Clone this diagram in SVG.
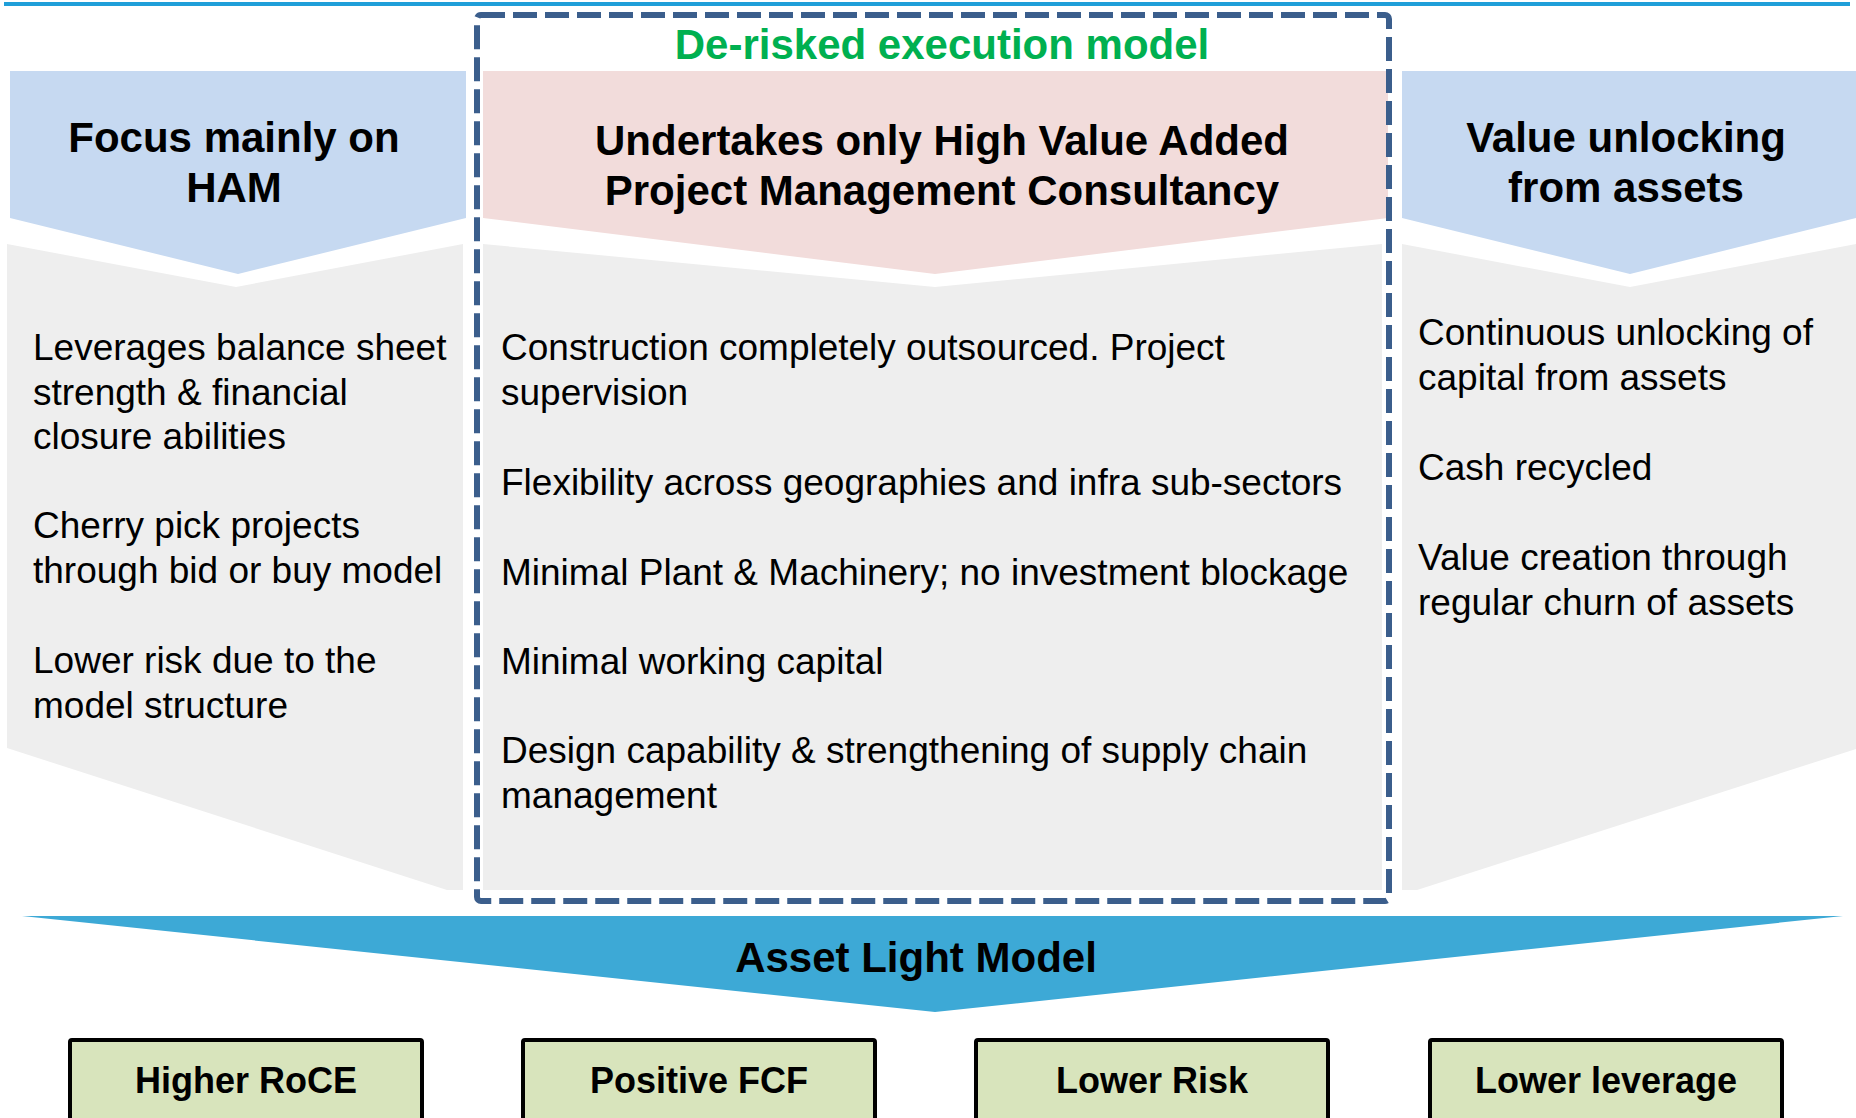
<svg xmlns="http://www.w3.org/2000/svg" width="1856" height="1118" viewBox="0 0 1856 1118">
<style>
.hdr{font-family:"Liberation Sans",Arial,sans-serif;font-weight:bold;font-size:42px;fill:#000;text-anchor:middle}
.body{font-family:"Liberation Sans",Arial,sans-serif;font-size:37px;fill:#000}
.res{font-family:"Liberation Sans",Arial,sans-serif;font-weight:bold;font-size:36px;fill:#000;text-anchor:middle}
.blue{fill:#c6d9f1}
.grey{fill:#eeeeee}
.box{fill:#d8e4bc;stroke:#000;stroke-width:4}
</style>
<rect x="0" y="0" width="1856" height="1118" fill="#ffffff"/>
<rect x="4" y="2" width="1846" height="4" fill="#1f9fd9"/>

<g id="left-column">
  <polygon class="grey" points="7,244 236,287 463,244 463,890 447,890 7,748"/>
  <polygon class="blue" points="10,71 466,71 466,218 238,274 10,218"/>
  <text class="hdr" x="234" y="152">Focus mainly on</text>
  <text class="hdr" x="234" y="202">HAM</text>
  <text class="body" x="33" y="360">Leverages balance sheet</text>
  <text class="body" x="33" y="405">strength &amp; financial</text>
  <text class="body" x="33" y="449">closure abilities</text>
  <text class="body" x="33" y="538">Cherry pick projects</text>
  <text class="body" x="33" y="583">through bid or buy model</text>
  <text class="body" x="33" y="673">Lower risk due to the</text>
  <text class="body" x="33" y="718">model structure</text>
</g>

<g id="center-column">
  <polygon class="grey" points="483,244 935,287 1382,244 1382,890 483,890"/>
  <polygon fill="#f2dcdb" points="483,71 1388,71 1388,218 935,274 483,218"/>
  <text class="hdr" x="942" y="155">Undertakes only High Value Added</text>
  <text class="hdr" x="942" y="205">Project Management Consultancy</text>
  <text class="body" x="501" y="360">Construction completely outsourced. Project</text>
  <text class="body" x="501" y="405">supervision</text>
  <text class="body" x="501" y="495">Flexibility across geographies and infra sub-sectors</text>
  <text class="body" x="501" y="585">Minimal Plant &amp; Machinery; no investment blockage</text>
  <text class="body" x="501" y="674">Minimal working capital</text>
  <text class="body" x="501" y="763">Design capability &amp; strengthening of supply chain</text>
  <text class="body" x="501" y="808">management</text>
</g>

<g id="right-column">
  <polygon class="grey" points="1402,244 1630,287 1856,244 1856,749 1417,890 1402,890"/>
  <polygon class="blue" points="1402,71 1856,71 1856,218 1630,274 1402,218"/>
  <text class="hdr" x="1626" y="152">Value unlocking</text>
  <text class="hdr" x="1626" y="202">from assets</text>
  <text class="body" x="1418" y="345">Continuous unlocking of</text>
  <text class="body" x="1418" y="390">capital from assets</text>
  <text class="body" x="1418" y="480">Cash recycled</text>
  <text class="body" x="1418" y="570">Value creation through</text>
  <text class="body" x="1418" y="615">regular churn of assets</text>
</g>

<g id="derisked-frame">
  <rect x="477" y="15" width="912" height="886" rx="4" fill="none" stroke="#3b5e8c" stroke-width="6" stroke-dasharray="24 8"/>
  <text class="hdr" x="942" y="59" style="fill:#00b050">De-risked execution model</text>
</g>

<g id="asset-light-model">
  <polygon fill="#3da9d6" points="22,916 1843,916 935,1012"/>
  <text class="hdr" x="916" y="972">Asset Light Model</text>
</g>

<g id="result-higher-roce">
  <rect class="box" x="70" y="1040" width="352" height="90" rx="2"/>
  <text class="res" x="246" y="1093">Higher RoCE</text>
</g>
<g id="result-positive-fcf">
  <rect class="box" x="523" y="1040" width="352" height="90" rx="2"/>
  <text class="res" x="699" y="1093">Positive FCF</text>
</g>
<g id="result-lower-risk">
  <rect class="box" x="976" y="1040" width="352" height="90" rx="2"/>
  <text class="res" x="1152" y="1093">Lower Risk</text>
</g>
<g id="result-lower-leverage">
  <rect class="box" x="1430" y="1040" width="352" height="90" rx="2"/>
  <text class="res" x="1606" y="1093">Lower leverage</text>
</g>

<g id="connectors"></g>
</svg>
